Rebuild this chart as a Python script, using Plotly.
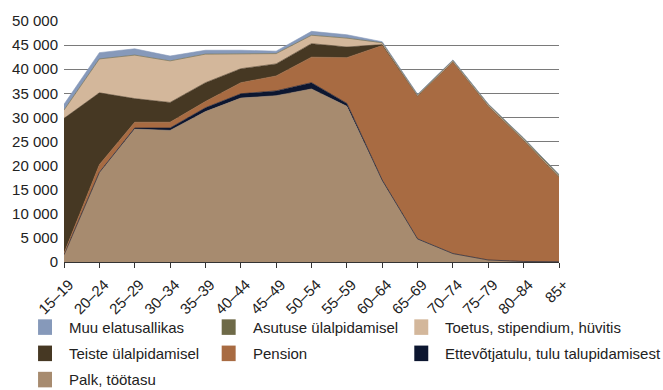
import plotly.graph_objects as go

# Age groups
age_groups = ["15–19", "20–24", "25–29", "30–34", "35–39", "40–44", "45–49",
              "50–54", "55–59", "60–64", "65–69", "70–74", "75–79", "80–84", "85+"]

# Main source of subsistence, persons by age group (stacked bottom to top)
palk = [1500, 18500, 27600, 27300, 31200, 34000, 34500, 35900, 32300, 16800, 4700, 1700, 400, 100, 50]
ettevotjatulu = [0, 100, 200, 500, 800, 900, 1000, 1300, 600, 200, 100, 50, 20, 10, 5]
pension = [300, 1600, 1200, 1200, 1300, 2300, 3100, 5300, 9500, 27900, 29600, 39750, 31900, 25100, 17550]
teiste = [28000, 14900, 4900, 4100, 3900, 2900, 2500, 2800, 2200, 200, 50, 50, 50, 50, 50]
toetus = [1700, 7000, 9000, 8600, 5900, 3000, 2100, 1700, 1800, 300, 100, 100, 100, 100, 100]
asutuse = [20, 30, 30, 30, 30, 30, 40, 50, 50, 100, 150, 200, 250, 300, 350]
muu = [1200, 1300, 1300, 1000, 800, 800, 500, 800, 700, 200, 100, 80, 60, 50, 50]

series = [
    ("Palk, töötasu", palk, "#A78B6F"),
    ("Ettevõtjatulu, tulu talupidamisest", ettevotjatulu, "#0C1630"),
    ("Pension", pension, "#A86B42"),
    ("Teiste ülalpidamisel", teiste, "#463823"),
    ("Toetus, stipendium, hüvitis", toetus, "#D3B79B"),
    ("Asutuse ülalpidamisel", asutuse, "#6E6A48"),
    ("Muu elatusallikas", muu, "#8699BA"),
]

# Legend layout: three columns, entries listed top of the stack first
legend_order = ["Muu elatusallikas", "Asutuse ülalpidamisel", "Toetus, stipendium, hüvitis",
                "Teiste ülalpidamisel", "Pension", "Ettevõtjatulu, tulu talupidamisest",
                "Palk, töötasu"]

W, H = 663, 390
L, R, T, B = 63, 104, 14, 128
PW, PH = W - L - R, H - T - B

fig = go.Figure()
x_idx = list(range(len(age_groups)))
for name, vals, color in series:
    fig.add_trace(go.Scatter(
        x=x_idx, y=vals, name=name, mode="lines",
        stackgroup="one", line=dict(width=0.6, color=color),
        fillcolor=color, showlegend=False,
    ))

font_family = "Liberation Sans, Arial, sans-serif"
text_color = "#222222"

def px_to_paper(px, py):
    return (px - L) / PW, (T + PH - py) / PH

colors = {n: c for n, _, c in series}
col_x = [37, 221, 414]
row_y = [329, 356, 383]
shapes = []
annotations = []
for i, name in enumerate(legend_order):
    cx = col_x[i % 3]
    cy = row_y[i // 3]
    x0, y0 = px_to_paper(cx, cy + 8)
    x1, y1 = px_to_paper(cx + 14, cy - 8)
    shapes.append(dict(type="rect", xref="paper", yref="paper",
                       x0=x0, y0=y0, x1=x1, y1=y1,
                       fillcolor=colors[name], line=dict(width=0), layer="above"))
    ax, ay = px_to_paper(cx + 29, cy)
    annotations.append(dict(xref="paper", yref="paper", x=ax, y=ay,
                            text=name, showarrow=False, xanchor="left", yanchor="middle",
                            font=dict(size=15, color=text_color, family=font_family)))

fig.update_layout(
    width=W, height=H,
    margin=dict(l=L, r=R, t=T, b=B, pad=0),
    paper_bgcolor="white", plot_bgcolor="white",
    separators=", ",
    font=dict(family=font_family, size=15, color=text_color),
    shapes=shapes, annotations=annotations,
    xaxis=dict(
        range=[0, len(age_groups) - 1],
        tickmode="array", tickvals=x_idx, ticktext=age_groups,
        tickangle=-45, ticks="outside", ticklen=5, tickcolor="#333333",
        showline=True, linecolor="#333333", linewidth=1,
        showgrid=False, zeroline=False,
        ticklabelstandoff=2, ticklabelshift=5,
        tickfont=dict(size=15, color=text_color),
    ),
    yaxis=dict(
        range=[0, 50000], tickmode="linear", tick0=0, dtick=5000,
        tickformat=",d", showgrid=True, gridcolor="#7a7a7a", gridwidth=1,
        zeroline=False, showline=False, ticks="",
        ticklabelstandoff=5,
        tickfont=dict(size=15, color=text_color),
    ),
)

fig.write_html("out.html")
